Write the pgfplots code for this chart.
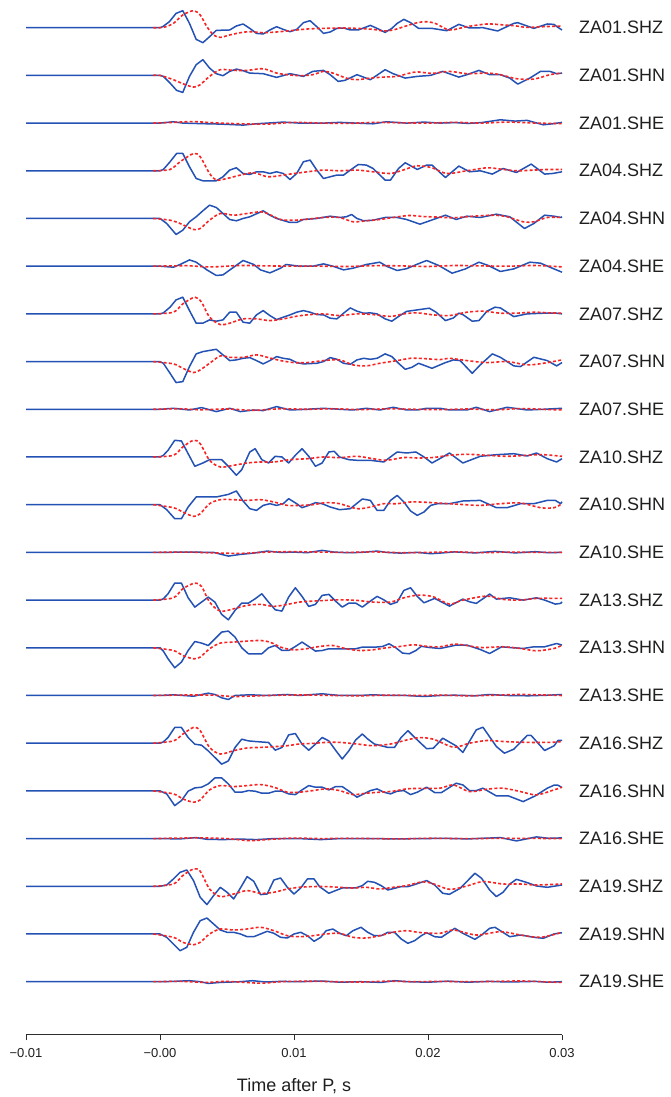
\documentclass[border=0pt]{standalone}
\usepackage{fontspec}
\setmainfont{Liberation Sans}
\usepackage{pgfplots}
\pgfplotsset{compat=1.18}
\definecolor{trblue}{RGB}{35,82,180}
\definecolor{trred}{RGB}{250,35,35}
\definecolor{axgray}{RGB}{45,45,45}
\pgfplotsset{
  bl/.style={trblue, line width=1.5pt, line join=round},
  rd/.style={trred, line width=1.6pt, dash pattern=on 3pt off 2.2pt, smooth},
}
\tikzset{lab/.style={anchor=west, inner sep=0pt, xshift=17pt, text=black!88, font=\fontsize{18}{21}\selectfont}}
\begin{document}
\begin{tikzpicture}
\begin{axis}[
  scale only axis, width=536pt, height=1034.5pt,
  xmin=-10, xmax=30, ymin=-1006.8, ymax=27.7,
  axis x line*=bottom, axis y line=none,
  clip=false,
  xtick={-10,0,10,20,30},
  xticklabels={−0.01,−0.00,0.01,0.02,0.03},
  tick align=outside, major tick length=5.5pt,
  x axis line style={draw=axgray, line width=1pt},
  xtick style={draw=axgray, line width=1pt},
  xticklabel style={font=\fontsize{13}{15}\selectfont, text=black!88, yshift=-5pt},
  xlabel={Time after P, s},
  xlabel style={font=\fontsize{18}{21}\selectfont, text=black!88, at={(axis description cs:0.5,0)}, anchor=center, yshift=-52pt},
]
% ---------- 0 ZA01.SHZ
\addplot[bl] table[row sep=\\, x=t, y expr=\thisrow{v}-0] {t v\\ -10 0\\ 0 0\\ 0.2 1\\ 0.7 6\\ 1.2 14.3\\ 1.7 17\\ 2.2 4.3\\ 2.7 -11.7\\ 3.2 -15\\ 3.7 -9\\ 4.2 -2.7\\ 5.2 -2.3\\ 5.7 1.7\\ 6.2 3.7\\ 6.7 -0.7\\ 7.2 -5.7\\ 7.7 -6.3\\ 8.2 -2.3\\ 8.7 1\\ 9.2 -1.7\\ 9.7 -4\\ 10.2 -1.7\\ 10.7 5\\ 11.2 7\\ 11.7 1\\ 12.2 -5.7\\ 12.7 -4.3\\ 13.2 -0.7\\ 13.7 -0.3\\ 14.2 -2.3\\ 14.8 -2.3\\ 15.7 2.3\\ 16.3 -1.3\\ 16.8 -4.7\\ 17.3 -0.7\\ 17.7 4.3\\ 18.2 8.3\\ 18.7 5\\ 19.3 -0.7\\ 20.3 -0.7\\ 21.4 -3\\ 22.3 3.3\\ 23.1 -0.3\\ 24.1 0\\ 25.2 -3.3\\ 26.4 4.3\\ 26.7 5\\ 27.9 -0.7\\ 28.9 3.7\\ 29.4 3.3\\ 29.7 0.3\\ 30 -2.3\\};
\addplot[rd] table[row sep=\\, x=t, y expr=\thisrow{v}-0] {t v\\ -0.5 0\\ 0.25 0.3\\ 1 4.3\\ 1.7 12.7\\ 2.5 17\\ 3 12.7\\ 3.5 1\\ 4 -7.3\\ 4.5 -9.7\\ 5.2 -7.3\\ 6 -5\\ 6.7 -4\\ 7.7 -5\\ 8.7 -4.3\\ 9.7 -3\\ 11 -1.3\\ 12.2 -0.7\\ 13.4 -0.3\\ 14.7 -0.7\\ 15.9 -1.7\\ 16.7 -3.3\\ 17.4 -2.3\\ 18.2 1\\ 19.2 5\\ 19.9 6\\ 20.6 4\\ 21.6 -2.3\\ 22.9 1\\ 24.4 3.7\\ 25.4 3\\ 26.4 2\\ 27.4 0.3\\ 28.6 1\\ 30 1.7\\};
% ---------- 1 ZA01.SHN
\addplot[bl] table[row sep=\\, x=t, y expr=\thisrow{v}-47.7] {t v\\ -10 0\\ 0 0\\ 0.25 -1\\ 0.75 -7.7\\ 1.24 -15\\ 1.7 -17\\ 2.2 -1\\ 2.7 10.7\\ 3.2 15.7\\ 3.7 7.3\\ 4.2 1.7\\ 4.7 -0.3\\ 5.2 4\\ 5.7 6.3\\ 6.2 4.7\\ 6.7 2.3\\ 7.7 1.7\\ 8.7 -2\\ 9.7 1.7\\ 10.7 -1\\ 11.4 4\\ 12.2 5\\ 12.7 0.7\\ 13.3 -6\\ 13.8 -5\\ 14.7 0.7\\ 15.7 -4.3\\ 16.8 5.7\\ 17.4 1.7\\ 18.3 -2.7\\ 19.2 -1\\ 20.2 0\\ 21.1 4\\ 22.3 -1.7\\ 22.9 0.7\\ 23.8 5\\ 24.6 0.7\\ 25.4 0.7\\ 26.1 -2.7\\ 26.7 -8.7\\ 27.6 -2.7\\ 28.4 4\\ 29.1 4\\ 29.6 1.7\\ 30 2.3\\};
\addplot[rd] table[row sep=\\, x=t, y expr=\thisrow{v}-47.7] {t v\\ -0.5 0\\ 0 0\\ 1 -4.3\\ 1.7 -8.3\\ 2.5 -11.7\\ 3 -9.3\\ 3.7 -1\\ 4.5 5.7\\ 5.5 5\\ 6.5 5\\ 7.5 6.7\\ 8 5.7\\ 8.7 2.3\\ 9.5 0.7\\ 10.4 -0.3\\ 11.4 0.7\\ 12.2 4\\ 12.9 2.3\\ 13.9 -2.7\\ 14.7 -4.3\\ 15.7 -2.7\\ 16.7 -1.7\\ 17.7 -1\\ 18.4 1.5\\ 19.2 3.5\\ 20.3 2\\ 21.6 4\\ 22.9 1.7\\ 24.4 2.3\\ 25.4 0.7\\ 26.6 -3.3\\ 27.9 -3.7\\ 29.1 0.7\\ 30 2.3\\};
% ---------- 2 ZA01.SHE
\addplot[bl] table[row sep=\\, x=t, y expr=\thisrow{v}-95.4] {t v\\ -10 0\\ 0 0\\ 1 1.3\\ 1.7 0\\ 3.5 -0.7\\ 4.5 -1\\ 6.2 -2\\ 7.2 -0.7\\ 9.2 1\\ 10.4 0\\ 12.2 0\\ 13.4 0.7\\ 15.9 -0.7\\ 16.9 1.3\\ 18.4 0\\ 19.7 1\\ 20.9 0\\ 22 0.5\\ 23 -0.3\\ 24 0.5\\ 25.4 3.3\\ 26.5 2\\ 27.4 2.7\\ 28.6 -1.7\\ 29.3 -0.7\\ 30 0.7\\};
\addplot[rd] table[row sep=\\, x=t, y expr=\thisrow{v}-95.4] {t v\\ -0.5 0\\ 1 0.7\\ 2.5 1.5\\ 4 0.3\\ 6 -0.7\\ 8 -1\\ 10 0.7\\ 12 0\\ 14 -0.3\\ 16 0.7\\ 18 0.3\\ 20 0\\ 22 0.7\\ 24 0\\ 26 1\\ 28 0\\ 30 -0.5\\};
% ---------- 3 ZA04.SHZ
\addplot[bl] table[row sep=\\, x=t, y expr=\thisrow{v}-143.1] {t v\\ -10 0\\ 0 0\\ 0.25 1.3\\ 0.75 9\\ 1.24 17.3\\ 1.7 17.3\\ 2.2 4\\ 2.7 -7.7\\ 3.2 -10\\ 4.2 -10\\ 4.7 -6\\ 5.2 0.7\\ 5.7 3\\ 6.2 -2.7\\ 6.7 -3.7\\ 7.2 -1\\ 7.7 -1\\ 8.2 -2.7\\ 8.7 -1\\ 9.2 -2.7\\ 9.7 -8.7\\ 10.2 -2.7\\ 10.7 9\\ 11.2 10.7\\ 11.7 0.7\\ 12.2 -7.7\\ 12.7 -6\\ 13.2 -4.3\\ 13.7 -4.3\\ 14.2 0.7\\ 14.8 6.3\\ 15.4 5.7\\ 15.9 2.3\\ 16.8 -9.3\\ 17.2 -9.3\\ 17.8 2.3\\ 18.3 8\\ 19.2 1.3\\ 19.9 5.7\\ 20.3 5.7\\ 21.1 -4.3\\ 21.3 -6.7\\ 22.3 4.7\\ 23.1 -1\\ 23.9 0\\ 24.8 -3.3\\ 25.6 2.3\\ 26.6 -1.7\\ 27.7 6.7\\ 28.7 -3.3\\ 29.3 -2.7\\ 30 -1\\};
\addplot[rd] table[row sep=\\, x=t, y expr=\thisrow{v}-143.1] {t v\\ -0.5 0\\ 0.75 1.3\\ 1.5 9\\ 2.5 17.3\\ 3 14\\ 3.7 -2.7\\ 4.2 -9.3\\ 5 -7.7\\ 6 -4.3\\ 7 -2\\ 8 -6\\ 8.7 -5.3\\ 9.7 -3.3\\ 11 -1\\ 12.2 0.7\\ 13.4 0\\ 14.7 0.7\\ 15.9 -1\\ 17.2 -2.7\\ 18.2 1\\ 19.2 5\\ 20.3 3\\ 21.4 -2.7\\ 22.9 0\\ 24.4 3\\ 25.4 1.7\\ 26.6 0\\ 27.9 0.7\\ 28.9 1.3\\ 30 1.3\\};
% ---------- 4 ZA04.SHN
\addplot[bl] table[row sep=\\, x=t, y expr=\thisrow{v}-190.8] {t v\\ -10 0\\ 0 0\\ 0.5 -5\\ 1.2 -16\\ 1.7 -11.7\\ 2.2 -3.3\\ 2.7 1.7\\ 3.2 7.7\\ 3.7 13.3\\ 4.2 11\\ 4.7 5\\ 5.2 -1\\ 5.7 -2.3\\ 6.2 0\\ 6.7 1.7\\ 7.7 7.7\\ 8.2 3.3\\ 8.7 0\\ 9.7 -4\\ 10.2 -4\\ 10.7 -1\\ 11.7 0\\ 12.7 2.3\\ 13.4 1\\ 13.9 1.7\\ 14.3 4\\ 14.7 0\\ 15.2 -2.3\\ 15.9 -1.7\\ 16.8 1\\ 17.7 1\\ 18.4 -1\\ 19.4 -5.7\\ 20.4 -1\\ 21.3 3.3\\ 22.1 -1\\ 22.9 2.3\\ 23.9 1\\ 25.1 4.3\\ 26.1 1.7\\ 27.2 -10\\ 27.9 -5\\ 28.7 3.3\\ 29.4 2.3\\ 29.9 1\\ 30 1.7\\};
\addplot[rd] table[row sep=\\, x=t, y expr=\thisrow{v}-190.8] {t v\\ -0.5 0\\ 0.75 -1.7\\ 1.5 -5\\ 2.5 -11\\ 3 -10\\ 3.7 -1.7\\ 4.5 5\\ 5.5 3.3\\ 6.5 5\\ 7.5 6.7\\ 8 5\\ 9 -1\\ 10 -1.7\\ 11 -0.7\\ 12.2 1\\ 13.4 1\\ 14.4 -3.3\\ 15.4 -2.3\\ 16.4 -1\\ 17.4 1\\ 18.6 3\\ 19.6 2\\ 20.9 1.3\\ 21.9 0.7\\ 23.4 2.3\\ 24.9 3.3\\ 25.9 1.7\\ 27.1 -3.3\\ 27.9 -3.3\\ 28.9 1\\ 30 1\\};
% ---------- 5 ZA04.SHE
\addplot[bl] table[row sep=\\, x=t, y expr=\thisrow{v}-238.5] {t v\\ -10 0\\ 0 0\\ 1 -1\\ 1.5 1.7\\ 2.2 6.3\\ 2.7 4\\ 3.5 -3.7\\ 4.2 -9.3\\ 4.7 -8.7\\ 5.5 -1\\ 6.2 5.7\\ 7 1.7\\ 7.5 -3.7\\ 8.2 -6.7\\ 9 -2\\ 9.4 1.7\\ 10.4 0\\ 11.4 0\\ 12.2 2.3\\ 12.9 0\\ 13.7 -3.7\\ 14.4 -2\\ 15.4 1.7\\ 16.4 4\\ 16.9 0\\ 17.7 -4.3\\ 18.4 -2.5\\ 19.2 2\\ 19.9 5.7\\ 20.8 0.7\\ 21.8 -7\\ 22.8 -2.7\\ 23.8 4\\ 24.5 0.7\\ 25.4 -5.3\\ 26.4 -2.7\\ 27.6 4\\ 28.4 3\\ 29.4 -2.7\\ 30 -6\\};
\addplot[rd] table[row sep=\\, x=t, y expr=\thisrow{v}-238.5] {t v\\ -0.5 0\\ 1 0.3\\ 2 0.5\\ 3 -0.3\\ 4 -0.7\\ 6 0.7\\ 8 0.3\\ 10 0\\ 12 0\\ 14 -0.3\\ 16 0.5\\ 18 0.3\\ 20 -0.3\\ 22 0.7\\ 24 0.3\\ 26 0\\ 28 0.7\\ 30 -0.7\\};
% ---------- 6 ZA07.SHZ
\addplot[bl] table[row sep=\\, x=t, y expr=\thisrow{v}-286.2] {t v\\ -10 0\\ 0 0\\ 0.25 1\\ 0.75 6.7\\ 1.2 14\\ 1.7 16.7\\ 2.2 3.3\\ 2.7 -9.3\\ 3.2 -9.3\\ 3.7 -6\\ 4.2 -7.3\\ 4.7 -6\\ 5.2 1.7\\ 5.7 1.7\\ 6.2 -8.3\\ 6.7 -9.3\\ 7.2 -1\\ 7.7 3.3\\ 8.2 -1.7\\ 8.7 -5.7\\ 9.2 -3.3\\ 9.7 -1\\ 10.2 1.7\\ 10.7 3.3\\ 11.2 1.7\\ 11.7 -0.7\\ 12.2 -1\\ 12.7 -4.3\\ 13.2 -5\\ 13.7 0.7\\ 14.2 6\\ 14.7 2.7\\ 15.2 0.7\\ 15.7 1\\ 16.2 0\\ 16.8 -5\\ 17.3 -7.3\\ 17.9 -1.7\\ 18.4 2.5\\ 19.2 4\\ 20.1 5.7\\ 20.6 1.7\\ 21.3 -6.7\\ 21.9 -4\\ 22.3 0.7\\ 22.6 -0.7\\ 23.3 -7.3\\ 23.8 -6.7\\ 24.4 2.7\\ 25 6.7\\ 25.4 6\\ 26.4 -2.7\\ 27.4 0\\ 28.6 0.7\\ 29.6 0.7\\ 30 0\\};
\addplot[rd] table[row sep=\\, x=t, y expr=\thisrow{v}-286.2] {t v\\ -0.5 0\\ 1 1.7\\ 1.7 10\\ 2.6 16.7\\ 3.1 11.7\\ 3.7 -3.3\\ 4.5 -10.7\\ 5.2 -9.3\\ 6.2 -5\\ 7.2 -5\\ 8.2 -6.7\\ 9.2 -5\\ 10.2 -2.3\\ 11.2 -0.7\\ 12.2 0\\ 13.4 -1.7\\ 14.7 0\\ 15.9 -0.7\\ 17.2 -2.5\\ 18.2 0\\ 19.2 1\\ 20.4 -1\\ 21.6 -1.7\\ 22.9 1.7\\ 24.1 2.7\\ 25.4 0.7\\ 26.6 0.7\\ 27.9 1.7\\ 29.1 1\\ 30 0.7\\};
% ---------- 7 ZA07.SHN
\addplot[bl] table[row sep=\\, x=t, y expr=\thisrow{v}-333.9] {t v\\ -10 0\\ 0 0\\ 0.25 -1.7\\ 0.75 -11.7\\ 1.2 -21\\ 1.7 -20\\ 2.2 -5\\ 2.7 7.7\\ 3.2 10\\ 4.2 12.3\\ 4.7 6.7\\ 5.2 1\\ 5.7 1.7\\ 6.2 3.3\\ 6.7 4\\ 7.2 1\\ 7.7 -2.3\\ 8.2 1\\ 8.7 5\\ 9.2 3.3\\ 9.7 2.3\\ 10.2 -1\\ 10.7 -2.3\\ 11.7 -1.7\\ 12.2 0\\ 12.7 4\\ 13.2 2.3\\ 13.7 -1.7\\ 14.2 -2.7\\ 14.7 1.7\\ 15.2 3.3\\ 15.7 2.3\\ 16.2 3.3\\ 16.8 7.7\\ 17.3 5\\ 17.8 -1.7\\ 18.3 -7.7\\ 18.8 -5.7\\ 19.3 -1.7\\ 20.3 -6.7\\ 21.3 -1\\ 21.9 1.7\\ 22.4 1\\ 23.3 -11.7\\ 23.9 -3.3\\ 24.8 7.7\\ 25.4 4.3\\ 26.4 -4.3\\ 26.9 -5\\ 27.9 4.3\\ 28.9 1\\ 29.6 -4.3\\ 30 -1\\};
\addplot[rd] table[row sep=\\, x=t, y expr=\thisrow{v}-333.9] {t v\\ -0.5 0\\ 1 -2.3\\ 1.7 -6.7\\ 2.5 -11\\ 3 -8.3\\ 3.7 -1.7\\ 4.5 5.7\\ 5.2 4.3\\ 6.2 4.3\\ 7.2 6.7\\ 8 4.3\\ 9 1\\ 10 -1\\ 11 -1\\ 12.2 1\\ 13.4 1.7\\ 14.4 -3.3\\ 15.4 -4.3\\ 16.4 -1.7\\ 17.7 1\\ 18.7 3.3\\ 19.7 3\\ 20.9 2\\ 21.6 3.3\\ 22.9 1\\ 24.4 -1\\ 25.9 0\\ 27.4 -3.3\\ 28.6 -1.7\\ 30 1.7\\};
% ---------- 8 ZA07.SHE
\addplot[bl] table[row sep=\\, x=t, y expr=\thisrow{v}-381.6] {t v\\ -10 0\\ 0 0\\ 1 1\\ 2.2 -0.7\\ 3.1 1.7\\ 4.2 -2.3\\ 5.2 1\\ 6 -2.3\\ 7 -0.7\\ 7.7 -1.3\\ 8.7 2.7\\ 9.7 -0.7\\ 11 0\\ 12.2 1\\ 13.4 0\\ 14.4 -0.7\\ 15.4 1\\ 16.4 -0.7\\ 17.4 2\\ 18.4 -0.7\\ 19.2 -0.7\\ 19.9 1\\ 20.9 1\\ 21.6 -0.7\\ 22.9 -0.7\\ 23.6 2\\ 24.6 -2.3\\ 25.9 2\\ 27.4 -0.7\\ 28.6 0\\ 30 1\\};
\addplot[rd] table[row sep=\\, x=t, y expr=\thisrow{v}-381.6] {t v\\ -0.5 0\\ 1.5 0.5\\ 3 -0.5\\ 5 0.3\\ 7 -1\\ 9 0.5\\ 11 0\\ 13 0.5\\ 15 -0.3\\ 17 0.5\\ 19 0\\ 21 -0.3\\ 23 0.3\\ 25 -0.5\\ 27 0.7\\ 29 -0.3\\ 30 -0.5\\};
% ---------- 9 ZA10.SHZ
\addplot[bl] table[row sep=\\, x=t, y expr=\thisrow{v}-429.3] {t v\\ -10 0\\ 0 0\\ 0.25 1.7\\ 0.6 6.7\\ 1.1 16.7\\ 1.6 16\\ 2.1 3.3\\ 2.6 -9.3\\ 3.2 -6\\ 3.7 -2.7\\ 4.6 -2.7\\ 5.1 -9.3\\ 5.7 -18.3\\ 6.1 -12.7\\ 6.7 5\\ 7.1 8.3\\ 7.6 -2.7\\ 8.1 -6\\ 8.6 0.7\\ 9.1 0\\ 9.6 -6\\ 10.1 1.7\\ 10.6 8.3\\ 11.1 0.7\\ 11.6 -9.3\\ 12.1 -6\\ 12.6 5\\ 13 5.7\\ 13.4 0\\ 14.1 -2.7\\ 14.7 -3.3\\ 15.7 -3.3\\ 16.7 -5\\ 17.7 5\\ 18.4 4\\ 19.1 5\\ 19.7 0\\ 20.3 -6\\ 21.1 0\\ 21.6 4\\ 22 0\\ 22.6 -6\\ 23.9 0.7\\ 25.1 2.3\\ 26.4 3.3\\ 27.4 1\\ 28.1 4\\ 28.9 -1.7\\ 29.6 -5\\ 30 -1.7\\};
\addplot[rd] table[row sep=\\, x=t, y expr=\thisrow{v}-429.3] {t v\\ -0.5 0\\ 1 1.7\\ 1.7 10\\ 2.5 16.7\\ 3 13.3\\ 3.7 -3.3\\ 4.5 -10\\ 5.5 -8.3\\ 6.5 -6\\ 7.5 -5\\ 8.5 -5\\ 9.7 -2.7\\ 11 -1.7\\ 12.2 0\\ 13.4 -0.7\\ 14.7 0.7\\ 15.9 -1.7\\ 16.9 -3.3\\ 18.2 -0.5\\ 19.2 -1\\ 20.4 -0.5\\ 21.6 1.7\\ 22.9 2.7\\ 24.4 1.7\\ 25.9 0.7\\ 27.4 1.7\\ 28.6 2.3\\ 30 0.7\\};
% ---------- 10 ZA10.SHN
\addplot[bl] table[row sep=\\, x=t, y expr=\thisrow{v}-477] {t v\\ -10 0\\ 0 0\\ 0.5 -5\\ 1.1 -14\\ 1.6 -14\\ 2.1 -2.3\\ 2.7 7.7\\ 3.2 7.7\\ 4.2 7.7\\ 5.1 10.3\\ 5.7 13.7\\ 6.2 3.7\\ 6.7 -4\\ 7.2 -5.7\\ 7.7 -0.7\\ 8.2 1\\ 8.7 -0.7\\ 9.2 1\\ 9.6 6\\ 10.2 1\\ 10.6 -3\\ 11.1 -0.7\\ 11.6 2\\ 12.1 1\\ 12.7 -2.3\\ 13.4 -5\\ 14.2 -4\\ 15.1 5.7\\ 15.7 4.3\\ 16.2 -5.7\\ 16.7 -5.7\\ 17.2 4.3\\ 17.7 9.3\\ 18.2 2.7\\ 18.7 -6.3\\ 19.2 -10.7\\ 19.7 -7.3\\ 20.2 -0.7\\ 20.7 1\\ 21.6 1\\ 22.6 3.7\\ 23.9 4.3\\ 25.1 -3\\ 25.9 -3\\ 26.9 1\\ 27.9 1\\ 28.9 4.3\\ 29.5 4.3\\ 29.9 1\\ 30 3\\};
\addplot[rd] table[row sep=\\, x=t, y expr=\thisrow{v}-477] {t v\\ -0.5 0\\ 1 -3\\ 1.7 -7.3\\ 2.5 -11.7\\ 3 -9\\ 3.7 1\\ 4.5 5\\ 5.5 5\\ 6.5 4.3\\ 7.5 5\\ 8.5 2.7\\ 9.5 -0.7\\ 10.4 -0.7\\ 11.4 0\\ 12.4 2\\ 13.4 1\\ 14.7 -4\\ 15.7 -2.3\\ 16.7 1\\ 17.7 1\\ 18.7 2.7\\ 19.7 2.5\\ 20.9 1.5\\ 22.4 0.3\\ 23.9 -0.7\\ 25.4 1\\ 26.9 1.7\\ 28.4 -3\\ 29.4 -3\\ 30 1\\};
% ---------- 11 ZA10.SHE
\addplot[bl] table[row sep=\\, x=t, y expr=\thisrow{v}-524.7] {t v\\ -10 0\\ 0 0\\ 2 0.3\\ 4 0\\ 5.1 -3.7\\ 6 -2\\ 7 -0.7\\ 8 1.3\\ 9 0\\ 10 0.3\\ 11 -0.3\\ 12.1 2\\ 13 0.3\\ 14 -0.3\\ 15 0\\ 16.2 1.3\\ 16.9 0\\ 17.9 -0.7\\ 19.2 0\\ 20.2 -1.3\\ 20.9 -0.7\\ 22 0.5\\ 23.5 -0.5\\ 25 1\\ 26.5 -0.5\\ 28 0.7\\ 29 -0.3\\ 30 0\\};
\addplot[rd] table[row sep=\\, x=t, y expr=\thisrow{v}-524.7] {t v\\ -0.5 0\\ 2 0.3\\ 4 -0.5\\ 6 -1\\ 8 0.3\\ 10 0.7\\ 12 0.3\\ 14 0\\ 16 0.5\\ 18 -0.3\\ 20 0\\ 22 0.5\\ 24 -0.3\\ 26 0.3\\ 28 0\\ 30 0\\};
% ---------- 12 ZA13.SHZ
\addplot[bl] table[row sep=\\, x=t, y expr=\thisrow{v}-572.4] {t v\\ -10 0\\ 0 0\\ 0.25 1.3\\ 0.6 6.3\\ 1.1 17\\ 1.6 17\\ 2.1 2.3\\ 2.6 -7\\ 3.1 -2\\ 3.6 3\\ 4.1 -2\\ 4.6 -14.3\\ 5.1 -19.7\\ 5.6 -10.3\\ 6.1 -3\\ 6.6 -3\\ 7.1 1.3\\ 7.6 6.3\\ 8.1 -2\\ 8.6 -9.7\\ 9.1 -11\\ 9.6 3\\ 10.1 12.3\\ 10.6 3.7\\ 11.1 -6.3\\ 11.6 -4.3\\ 12.1 4.7\\ 12.6 5.7\\ 13.1 -1\\ 13.6 -7\\ 14.1 -3\\ 14.6 -3\\ 15.1 -7\\ 15.7 -1\\ 16.2 3.7\\ 16.7 0.3\\ 17.2 -4.3\\ 17.7 -2\\ 18.2 9.7\\ 18.7 12.3\\ 19.2 3.7\\ 19.7 -2.7\\ 20.5 1.7\\ 21.6 -6\\ 22.6 1\\ 23.1 -1.7\\ 23.6 -3.3\\ 24.6 6\\ 25.1 1\\ 26.1 2.3\\ 27.1 0\\ 28.1 2.3\\ 28.7 0\\ 29.5 -4\\ 29.9 -3.3\\ 30 -1.7\\};
\addplot[rd] table[row sep=\\, x=t, y expr=\thisrow{v}-572.4] {t v\\ -0.5 0\\ 1 2.3\\ 1.7 11.3\\ 2.6 17\\ 3.1 13.7\\ 3.7 -2\\ 4.5 -11\\ 5.5 -8.7\\ 6.5 -5.3\\ 7.5 -4.3\\ 8.5 -6.3\\ 9.5 -4.3\\ 10.4 -2\\ 11.4 -1\\ 12.4 -0.3\\ 13.4 0.3\\ 14.7 -0.3\\ 15.9 -2\\ 17.2 -2\\ 18.2 2.3\\ 19.3 5\\ 20.4 3.3\\ 21.6 -4\\ 22.6 0\\ 24.4 4\\ 25.6 0.7\\ 26.9 0\\ 28.1 1.7\\ 30 1.7\\};
% ---------- 13 ZA13.SHN
\addplot[bl] table[row sep=\\, x=t, y expr=\thisrow{v}-620.1] {t v\\ -10 0\\ 0 0\\ 0.25 -3.3\\ 0.6 -11\\ 1.1 -20\\ 1.6 -14.3\\ 2.1 -2.7\\ 2.6 6.3\\ 3.1 4.7\\ 3.6 2.3\\ 4.1 9\\ 4.6 15.7\\ 5.1 16.7\\ 5.6 10.7\\ 6.1 0\\ 6.6 -6\\ 7.1 -6\\ 7.6 -6\\ 8.1 0\\ 8.6 2.3\\ 9.1 -2.7\\ 9.6 -2.7\\ 10.1 1.3\\ 10.6 5.7\\ 11.1 1.3\\ 11.6 -3.3\\ 12.1 -2.7\\ 12.6 -1\\ 13.6 -1\\ 14.6 -1\\ 15.1 0.7\\ 16.1 0.7\\ 16.6 1.3\\ 17.1 4\\ 17.6 0\\ 18.1 -5.3\\ 18.6 -6\\ 19.1 -2.7\\ 19.5 1.5\\ 20.1 0.3\\ 20.9 -0.7\\ 22.1 2.7\\ 22.9 2.7\\ 23.9 -1.7\\ 24.6 -5.7\\ 25.5 1\\ 26.1 0.3\\ 27.1 -0.7\\ 27.9 1\\ 28.7 1\\ 29.6 4.3\\ 30 2.7\\};
\addplot[rd] table[row sep=\\, x=t, y expr=\thisrow{v}-620.1] {t v\\ -0.5 0\\ 1 -2.7\\ 1.7 -7.7\\ 2.5 -11\\ 3 -9.3\\ 3.7 -1\\ 4.5 4.7\\ 5.5 5.7\\ 6.5 6.7\\ 7.5 7.3\\ 8.2 5.7\\ 9 0.7\\ 9.9 -2\\ 10.9 -1\\ 11.9 1.3\\ 12.9 2.3\\ 13.9 -1\\ 14.9 -2.7\\ 15.9 -2\\ 16.9 0\\ 17.9 1.3\\ 18.9 3\\ 19.9 1.5\\ 20.9 1\\ 22.1 3.7\\ 23.9 0.3\\ 25.6 1\\ 26.9 -0.7\\ 28.1 -3\\ 29.4 -0.7\\ 30 2.7\\};
% ---------- 14 ZA13.SHE
\addplot[bl] table[row sep=\\, x=t, y expr=\thisrow{v}-667.8] {t v\\ -10 0\\ 0 0\\ 1 0.7\\ 2.5 -0.7\\ 3.6 2.3\\ 4.1 1\\ 4.6 -2.3\\ 5.1 -4\\ 5.6 0\\ 6.7 0.7\\ 8 0\\ 9.5 1\\ 10.4 0\\ 12.1 1.7\\ 13.4 0\\ 14.9 0\\ 15.9 0.7\\ 17 0\\ 18.4 0\\ 19.7 -1\\ 20.9 0\\ 22 0.3\\ 23.5 -0.3\\ 24.6 1\\ 26 0\\ 27.5 -0.3\\ 29 0.3\\ 30 1\\};
\addplot[rd] table[row sep=\\, x=t, y expr=\thisrow{v}-667.8] {t v\\ -0.5 0\\ 2 0.5\\ 4 0.3\\ 5.5 -1\\ 7 -0.5\\ 9 0.3\\ 11 0.5\\ 13 0\\ 15 -0.3\\ 17 0.3\\ 19 0\\ 21 0.3\\ 23 -0.3\\ 25 0.3\\ 27 1\\ 30 0\\};
% ---------- 15 ZA16.SHZ
\addplot[bl] table[row sep=\\, x=t, y expr=\thisrow{v}-715.5] {t v\\ -10 0\\ 0 0\\ 0.25 1.3\\ 0.6 5.7\\ 1.1 15.7\\ 1.6 15.7\\ 2.1 5.7\\ 2.6 -1\\ 3.1 -2\\ 3.6 -7.7\\ 4.1 -14.3\\ 4.6 -21\\ 5.1 -17.7\\ 5.6 -4.3\\ 6.1 4\\ 6.6 2.3\\ 7.1 1.7\\ 8.1 0.7\\ 8.6 -7\\ 9.1 -4.3\\ 9.6 8.3\\ 10.1 9.7\\ 10.6 -1\\ 11.1 -7\\ 11.6 -1\\ 12.1 5.7\\ 12.6 2.3\\ 13.1 -7\\ 13.6 -15.8\\ 14.1 -7.5\\ 14.6 3.2\\ 15.1 9.2\\ 15.5 4.2\\ 16 -0.8\\ 16.5 -2.5\\ 17 -4.2\\ 17.5 -4.2\\ 18 5.8\\ 18.5 12.5\\ 19 5.8\\ 19.5 -0.5\\ 19.9 -5.5\\ 20.4 -5\\ 21.1 5\\ 22.1 -2.7\\ 22.6 -9.3\\ 23.6 13.3\\ 24.1 16\\ 25.1 -3.3\\ 25.7 -10\\ 26.4 -6\\ 27.4 7.7\\ 27.7 7.7\\ 28.7 -7.3\\ 29.4 -2.7\\ 29.7 2.7\\ 30 2.7\\};
\addplot[rd] table[row sep=\\, x=t, y expr=\thisrow{v}-715.5] {t v\\ -0.5 0\\ 1 2.3\\ 1.7 9\\ 2.5 15.8\\ 3 12.5\\ 3.7 -4.2\\ 4.5 -10.8\\ 5.5 -7.5\\ 6.5 -4.8\\ 7.5 -4.2\\ 8.5 -3.5\\ 9.5 -2.5\\ 10.4 -0.8\\ 11.4 -0.2\\ 12.4 0.8\\ 13.4 0.8\\ 14.7 -0.8\\ 15.9 -2.5\\ 17.2 -0.8\\ 18.2 2.5\\ 19.3 5.5\\ 20.4 4\\ 21.9 -4\\ 23.1 0\\ 24.4 2.7\\ 25.6 1.7\\ 26.9 1\\ 28.1 0.7\\ 29.4 1\\ 30 1.7\\};
% ---------- 16 ZA16.SHN
\addplot[bl] table[row sep=\\, x=t, y expr=\thisrow{v}-763.2] {t v\\ -10 0\\ 0 0\\ 0.5 -3\\ 1.1 -14.7\\ 1.6 -9.7\\ 2.1 -0.3\\ 2.6 3\\ 3.1 3.7\\ 3.6 7\\ 4.1 13\\ 4.6 13\\ 5.1 7\\ 5.6 -1.3\\ 6.1 -1.3\\ 6.6 0.3\\ 7.1 -0.3\\ 7.6 -2.3\\ 8.1 -2.3\\ 8.6 -0.3\\ 9.1 -0.3\\ 9.6 -3\\ 10.1 -3.7\\ 10.6 1\\ 11.1 5.3\\ 11.6 3.7\\ 12.1 3.7\\ 12.6 1\\ 13.1 4.3\\ 13.6 4.3\\ 14.1 -0.3\\ 14.7 -6.3\\ 15.2 -3\\ 15.7 0.3\\ 16.2 2\\ 16.7 -1.3\\ 17.2 -3\\ 17.7 -0.3\\ 18.2 0.3\\ 18.7 -3.7\\ 19.2 -1.3\\ 19.9 3.7\\ 20.5 -1.7\\ 21 -1.7\\ 22.1 7.7\\ 22.6 6\\ 23.1 0.3\\ 23.6 0.3\\ 24.1 2.7\\ 25.1 -5\\ 26 -5\\ 27.1 -10.7\\ 28 -5\\ 28.9 2.7\\ 29.4 5.7\\ 29.7 5.7\\ 30 3.3\\};
\addplot[rd] table[row sep=\\, x=t, y expr=\thisrow{v}-763.2] {t v\\ -0.5 0\\ 1 -3\\ 1.7 -8\\ 2.5 -11.3\\ 3 -9\\ 3.7 1\\ 4.5 5.3\\ 5.5 4.3\\ 6.5 5.3\\ 7.5 6.3\\ 8.5 3.7\\ 9.5 -1.3\\ 10.4 -1.3\\ 11.4 0.3\\ 12.4 2\\ 13.4 0.3\\ 14.4 -3.7\\ 15.4 -2.3\\ 16.4 -1.3\\ 17.4 -0.3\\ 18.4 2\\ 19.4 2.5\\ 20.9 2.7\\ 21.9 6\\ 23.1 -0.7\\ 24.4 1.7\\ 25.6 2.7\\ 26.9 -0.7\\ 28.1 -4\\ 29.4 1\\ 30 3.7\\};
% ---------- 17 ZA16.SHE
\addplot[bl] table[row sep=\\, x=t, y expr=\thisrow{v}-810.9] {t v\\ -10 0\\ 0 0\\ 1.5 -0.3\\ 2.7 1\\ 3.5 -0.7\\ 4.7 -1\\ 6 -0.5\\ 7.2 -1\\ 8.5 0\\ 10.4 0\\ 12 -1\\ 13.4 0\\ 15.9 0\\ 17.4 -0.3\\ 19.9 0\\ 21 0.3\\ 23 -0.3\\ 25.4 1\\ 26.6 -2.3\\ 28.1 1.7\\ 29 0.3\\ 30 0.7\\};
\addplot[rd] table[row sep=\\, x=t, y expr=\thisrow{v}-810.9] {t v\\ -0.5 0\\ 1.5 0.5\\ 3 0.7\\ 5 0\\ 6.7 -2\\ 8.5 -0.5\\ 10 0.5\\ 12 0\\ 14 0.3\\ 16 0\\ 18 -0.3\\ 20 0.3\\ 23 0\\ 26 0.3\\ 30 0\\};
% ---------- 18 ZA19.SHZ
\addplot[bl] table[row sep=\\, x=t, y expr=\thisrow{v}-858.6] {t v\\ -10 0\\ 0 0\\ 0.5 1.3\\ 1 7.3\\ 1.5 14\\ 2 16.3\\ 2.5 5.7\\ 3 -11\\ 3.5 -18.3\\ 4 -9.3\\ 4.5 -1\\ 5 -6\\ 5.5 -12.7\\ 6 -1.7\\ 6.5 9.7\\ 7 5\\ 7.5 -8.3\\ 8 -7.7\\ 8.5 6.3\\ 9 8.3\\ 9.5 -1\\ 10 -7.7\\ 10.5 -1.7\\ 11 7.3\\ 11.5 7.3\\ 11.9 -0.3\\ 12.6 -7\\ 13.1 -4.3\\ 13.6 -1.7\\ 14.6 -1.7\\ 15.1 0.7\\ 15.5 5\\ 16 4\\ 16.5 0.7\\ 17 -3.7\\ 17.5 -2\\ 18 -0.3\\ 18.5 -0.3\\ 19 1.7\\ 19.5 4\\ 19.9 5.7\\ 20.5 1.3\\ 21.1 -7\\ 21.6 -8\\ 22.4 -2\\ 23.5 13\\ 24 8\\ 24.6 -3.7\\ 25.1 -10.3\\ 25.6 -6\\ 26.1 2.3\\ 26.6 7\\ 27.4 3.7\\ 28.1 0.3\\ 28.9 -1\\ 30 1.3\\};
\addplot[rd] table[row sep=\\, x=t, y expr=\thisrow{v}-858.6] {t v\\ -0.5 0\\ 1 2.3\\ 1.7 10.7\\ 2.5 17.3\\ 3 15\\ 3.7 -2.7\\ 4.5 -10.3\\ 5.5 -7.7\\ 6.5 -4.3\\ 7.5 -7\\ 8.5 -6\\ 9.5 -2.7\\ 10.4 -1\\ 11.4 -0.3\\ 12.4 -0.3\\ 13.4 -1\\ 14.4 -1.7\\ 15.4 -1\\ 16.4 -2.7\\ 17.4 -1\\ 18.4 0.7\\ 19.6 4.5\\ 20.4 2.5\\ 21.6 -3\\ 22.9 0.3\\ 24.1 4.7\\ 25.6 2.3\\ 26.9 2.3\\ 28.1 1.3\\ 30 2.3\\};
% ---------- 19 ZA19.SHN
\addplot[bl] table[row sep=\\, x=t, y expr=\thisrow{v}-906.3] {t v\\ -10 0\\ 0 0\\ 0.5 -3.3\\ 1 -10\\ 1.5 -16.7\\ 2 -13.3\\ 2.5 1.7\\ 3 13.3\\ 3.5 16\\ 4 10\\ 4.5 4\\ 5 1.7\\ 5.5 1.7\\ 6 0\\ 6.5 -2.7\\ 7 -2.7\\ 7.5 0\\ 8 2.7\\ 8.5 0.7\\ 9 -3.3\\ 9.5 -4\\ 10 0\\ 10.5 1.7\\ 11 -1.7\\ 11.5 -7.3\\ 12 -3.3\\ 12.4 3.3\\ 12.9 5\\ 13.4 0.7\\ 13.9 -1.7\\ 14.4 3.3\\ 15 6.7\\ 15.5 1.7\\ 16 -1.7\\ 16.5 -1.7\\ 17 1.7\\ 17.5 1.7\\ 18 -5\\ 18.5 -9.3\\ 19 -6.7\\ 19.5 -1.7\\ 19.9 1.3\\ 20.5 -2.7\\ 21 -3.3\\ 22 5.7\\ 22.6 0.7\\ 23.5 -5.3\\ 24 -1\\ 24.6 5.7\\ 25 6.7\\ 26.1 -2.7\\ 26.9 -1\\ 27.9 -3.3\\ 28.6 -4.3\\ 29.4 0\\ 30 1.3\\};
\addplot[rd] table[row sep=\\, x=t, y expr=\thisrow{v}-906.3] {t v\\ -0.5 0\\ 1 -3.3\\ 1.7 -8.3\\ 2.5 -10.7\\ 3 -8.3\\ 3.7 0\\ 4.5 5\\ 5.5 4\\ 6.5 5\\ 7.5 6.7\\ 8.5 3.3\\ 9.5 -1.7\\ 10.4 -2.7\\ 11.4 -1.7\\ 12.4 0\\ 13.4 0.7\\ 14.4 -3.3\\ 15.4 -4\\ 16.4 -1.7\\ 17.4 1.7\\ 18.4 3.3\\ 19.4 1.5\\ 20.9 0.7\\ 21.9 4\\ 23.6 -1\\ 25.4 2.3\\ 26.9 -1\\ 28.4 -3.3\\ 30 1.7\\};
% ---------- 20 ZA19.SHE
\addplot[bl] table[row sep=\\, x=t, y expr=\thisrow{v}-954] {t v\\ -10 0\\ 0 0\\ 1 0.3\\ 2.2 1\\ 3 0\\ 3.6 -1.7\\ 4.5 -0.7\\ 6 0\\ 6.9 1\\ 7.9 -0.3\\ 9 0.3\\ 10.4 0\\ 12 0.7\\ 13.5 -0.5\\ 15 0\\ 16.5 -0.7\\ 17.5 1\\ 18.5 0\\ 20 -0.5\\ 21.5 0.5\\ 23 -0.5\\ 24.5 0.3\\ 26 -0.3\\ 28 0.3\\ 29 -0.5\\ 30 0\\};
\addplot[rd] table[row sep=\\, x=t, y expr=\thisrow{v}-954] {t v\\ -0.5 0\\ 1.5 0.3\\ 3.5 -0.7\\ 5 0.3\\ 7.5 -1.5\\ 9 0\\ 11 0.5\\ 13 0\\ 15 -0.3\\ 17 0.5\\ 19 0\\ 21 0.3\\ 23 0\\ 25 0.3\\ 27 0.7\\ 29 -0.3\\ 30 -0.7\\};
% ---------- station labels
\node[lab] at (axis cs:30,0) {ZA01.SHZ};
\node[lab] at (axis cs:30,-47.7) {ZA01.SHN};
\node[lab] at (axis cs:30,-95.4) {ZA01.SHE};
\node[lab] at (axis cs:30,-143.1) {ZA04.SHZ};
\node[lab] at (axis cs:30,-190.8) {ZA04.SHN};
\node[lab] at (axis cs:30,-238.5) {ZA04.SHE};
\node[lab] at (axis cs:30,-286.2) {ZA07.SHZ};
\node[lab] at (axis cs:30,-333.9) {ZA07.SHN};
\node[lab] at (axis cs:30,-381.6) {ZA07.SHE};
\node[lab] at (axis cs:30,-429.3) {ZA10.SHZ};
\node[lab] at (axis cs:30,-477) {ZA10.SHN};
\node[lab] at (axis cs:30,-524.7) {ZA10.SHE};
\node[lab] at (axis cs:30,-572.4) {ZA13.SHZ};
\node[lab] at (axis cs:30,-620.1) {ZA13.SHN};
\node[lab] at (axis cs:30,-667.8) {ZA13.SHE};
\node[lab] at (axis cs:30,-715.5) {ZA16.SHZ};
\node[lab] at (axis cs:30,-763.2) {ZA16.SHN};
\node[lab] at (axis cs:30,-810.9) {ZA16.SHE};
\node[lab] at (axis cs:30,-858.6) {ZA19.SHZ};
\node[lab] at (axis cs:30,-906.3) {ZA19.SHN};
\node[lab] at (axis cs:30,-954) {ZA19.SHE};
\end{axis}
\pgfresetboundingbox
\path[use as bounding box] (-26pt,-62.5pt) rectangle (644pt,1034.5pt);
\end{tikzpicture}
\end{document}
